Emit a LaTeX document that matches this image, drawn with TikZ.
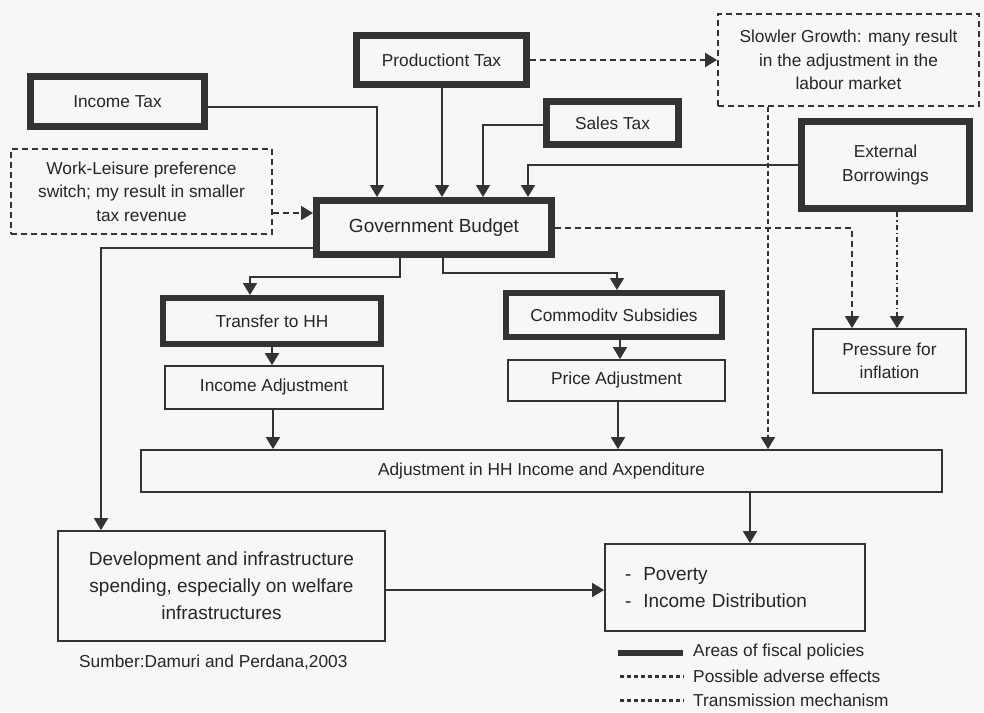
\documentclass[tikz,border=0pt]{standalone}
\usepackage{fontspec}
\setmainfont{Liberation Sans}
\usetikzlibrary{arrows.meta}
\definecolor{lc}{HTML}{333333}
\definecolor{tc}{HTML}{262626}
\definecolor{bg}{HTML}{F7F7F5}
\newcommand{\fa}{\fontsize{17.3}{23.5}\selectfont}
\newcommand{\fb}{\fontsize{19}{27}\selectfont}
\begin{document}
\begin{tikzpicture}[x=1pt,y=-1pt,
  box/.style={draw=lc, text=tc, align=center, inner sep=0pt, font=\fa},
  thickbox/.style={box, line width=7pt},
  thinbox/.style={box, line width=1.8pt},
  dashbox/.style={box, line width=1.8pt, dash pattern=on 6pt off 4pt},
  arr/.style={draw=lc, line width=1.8pt, -{Triangle[width=14pt,length=12pt]}},
  darr/.style={arr, dash pattern=on 6pt off 4pt},
  tarr/.style={arr, dash pattern=on 5pt off 3pt},
  tdarr/.style={arr, dash pattern=on 5pt off 3pt on 1.5pt off 3pt},
  lg/.style={text=tc, font=\fa, anchor=west, inner sep=0pt}
]
\fill[bg] (0,0) rectangle (984,712);
\useasboundingbox (0,0) rectangle (984,712);

% thick boxes (areas of fiscal policies)
\node[thickbox, minimum width=170pt, minimum height=49pt] (prod) at (441.5,60) {Productiont Tax};
\node[thickbox, minimum width=174pt, minimum height=50pt] (inc) at (117.5,101.5) {Income Tax};
\node[thickbox, minimum width=132pt, minimum height=43pt] (sales) at (612.5,123) {Sales Tax};
\node[thickbox, minimum width=168pt, minimum height=87pt] (ext) at (885.5,165) {External\\Borrowings};
\node[thickbox, minimum width=235pt, minimum height=54pt, font=\fb] (gov) at (434,227.5) {Government Budget};
\node[thickbox, line width=6pt, minimum width=218pt, minimum height=46pt] (trans) at (272,321) {Transfer to HH};
\node[thickbox, line width=6pt, minimum width=216pt, minimum height=44pt] (comm) at (614,315) {Commoditv Subsidies};

% dashed boxes
\node[dashbox, minimum width=261pt, minimum height=92pt] (slow) at (848.5,60) {Slowler Growth: many result\\in the adjustment in the\\labour market};
\node[dashbox, minimum width=261pt, minimum height=85pt] (work) at (141.5,191.5) {Work-Leisure preference\\switch; my result in smaller\\tax revenue};

% thin boxes
\node[thinbox, minimum width=218pt, minimum height=43pt] (incadj) at (274,387.5) {Income Adjustment};
\node[thinbox, minimum width=217pt, minimum height=41pt] (price) at (616.5,380.5) {Price Adjustment};
\node[thinbox, minimum width=153pt, minimum height=64pt] (pres) at (889.5,361) {Pressure for\\inflation};
\node[thinbox, minimum width=801pt, minimum height=42pt] (hh) at (541.5,471) {Adjustment in HH Income and Axpenditure};
\node[thinbox, minimum width=327pt, minimum height=110pt, font=\fb] (dev) at (221.5,586) {Development and infrastructure\\spending, especially on welfare\\infrastructures};
\node[thinbox, minimum width=260pt, minimum height=87pt, font=\fb, align=left, text width=220pt] (pov) at (735,587.5) {-\hspace{12pt}Poverty\\-\hspace{12pt}Income Distribution};

% coordinates for connectors
\coordinate (w1) at ([yshift=-21.5pt]work.east);
\coordinate (d1) at ([yshift=-4pt]dev.east);

% solid connectors
\draw[arr] ([yshift=-5.5pt]inc.east) -| ([xshift=-57pt]gov.north);
\draw[arr] ([xshift=0.5pt]prod.south) -- ([xshift=0.5pt]prod.south |- gov.north);
\draw[arr] ([yshift=-2pt]sales.west) -| ([xshift=49pt]gov.north);
\draw[arr] (ext.west) -| ([xshift=94pt]gov.north);
\draw[arr] ([xshift=-34pt]gov.south) -- ++(0,19) -| ([xshift=-22pt]trans.north);
\draw[arr] ([xshift=9pt]gov.south) -- ++(0,15) -| ([xshift=3pt]comm.north);
\draw[arr] (trans.south) -- (trans.south |- incadj.north);
\draw[arr] ([xshift=-1pt]incadj.south) -- ([xshift=-1pt]incadj.south |- hh.north);
\draw[arr] ([xshift=6pt]comm.south) -- ([xshift=6pt]comm.south |- price.north);
\draw[arr] ([xshift=1.5pt]price.south) -- ([xshift=1.5pt]price.south |- hh.north);
\draw[arr] ([yshift=-20.5pt]gov.west) -| ([xshift=-120.5pt]dev.north);
\draw[arr] ([xshift=208.5pt]hh.south) -- ([xshift=15pt]pov.north);
\draw[arr] (d1) -- (d1 -| pov.west);

% adverse effects
\draw[darr] (w1) -- (w1 -| gov.west);
\draw[darr] (prod.east) -- (slow.west);
\draw[tarr] ([xshift=-80.5pt]slow.south) -- ([xshift=-80.5pt]slow.south |- hh.north);
\draw[darr] ([yshift=-0.5pt]gov.east) -| ([xshift=-37.5pt]pres.north);
\draw[tdarr] ([xshift=11.5pt]ext.south) -- ([xshift=7.5pt]pres.north);

% source
\node[lg] (src) at (79,662) {Sumber:Damuri and Perdana,2003};

% legend
\coordinate (l1a) at (618,653); \coordinate (l1b) at (683,653);
\coordinate (l2a) at (620,676); \coordinate (l2b) at (684,676);
\coordinate (l3a) at (620,700); \coordinate (l3b) at (684,700);
\draw[lc, line width=6pt] (l1a) -- (l1b);
\draw[lc, line width=3pt, dash pattern=on 4pt off 3pt] (l2a) -- (l2b);
\draw[lc, line width=3pt, dash pattern=on 4pt off 3pt] (l3a) -- (l3b);
\node[lg] (lt1) at (693,652) {Areas of fiscal policies};
\node[lg] (lt2) at (693,676) {Possible adverse effects};
\node[lg] (lt3) at (693,700) {Transmission mechanism};
\end{tikzpicture}
\end{document}
